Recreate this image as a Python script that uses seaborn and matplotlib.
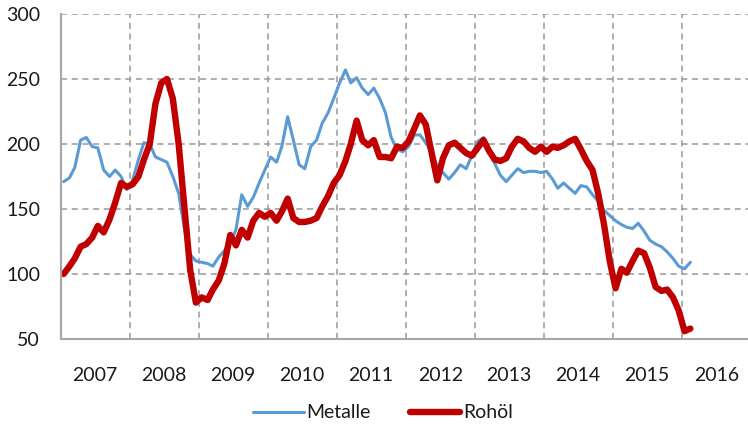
'''
Metalle vs. Rohöl price index, 2007 - 2016
'''
import matplotlib
matplotlib.use("Agg")
import matplotlib.pyplot as plt
import matplotlib.dates as mdates
import numpy as np
import pandas as pd
import seaborn as sns


# monthly index values, Jan 2007 .. Feb 2016
metalle = [171, 174, 182, 203, 205, 198, 197, 180, 175, 180, 175, 165,
           172, 188, 201, 200, 190, 188, 186, 175, 162, 135, 115, 110,
           109, 108, 106, 113, 118, 124, 134, 161, 152, 159, 170, 180,
           190, 186, 198, 221, 203, 184, 181, 198, 203, 216, 224, 235,
           247, 257, 247, 251, 243, 238, 243, 235, 224, 205, 196, 194,
           198, 207, 207, 201, 194, 183, 178, 173, 178, 184, 181, 191,
           202, 205, 195, 185, 176, 171, 176, 181, 178, 179, 179, 178,
           179, 173, 166, 170, 166, 162, 168, 167, 161, 156, 149, 145,
           141, 138, 136, 135, 139, 133, 126, 123, 121, 117, 112, 106,
           104, 109]

rohoel = [100, 106, 112, 121, 123, 128, 137, 132, 142, 155, 170, 167,
          169, 175, 188, 200, 231, 247, 250, 235, 200, 152, 103, 78,
          82, 80, 88, 95, 108, 130, 122, 134, 128, 141, 147, 144,
          147, 141, 148, 158, 143, 140, 140, 141, 143, 152, 160, 170,
          176, 187, 200, 218, 203, 199, 203, 190, 190, 189, 198, 197,
          202, 212, 222, 215, 194, 172, 189, 199, 201, 197, 193, 191,
          197, 203, 195, 188, 187, 189, 198, 204, 202, 197, 194, 198,
          194, 198, 197, 199, 202, 204, 196, 187, 180, 162, 138, 110,
          89, 104, 101, 110, 118, 116, 105, 90, 87, 88, 82, 72,
          56, 58]

series_names = ["Metalle", "Rohöl"]
series_colors = ["#5B9BD5", "#C00000"]
series_widths = [2.2, 4.6]

y_ticks = [50, 100, 150, 200, 250, 300]
first_month = "2007-01-01"
x_start, x_end = "2007-01-01", "2017-01-01"

# points sit in the middle of their month slot
months = pd.date_range(first_month, periods=len(metalle), freq="MS") + pd.Timedelta(days=14)
df = pd.DataFrame({"Monat": months, "Metalle": metalle, "Rohöl": rohoel})

sns.set_style("white")
plt.rcParams["font.family"] = ["Lato", "DejaVu Sans"]

fig = plt.figure(figsize=(7.48, 4.33), dpi=100)
ax = fig.add_axes([61 / 748, 94 / 433, 690 / 748, 325 / 433])

for name, color, lw in zip(series_names, series_colors, series_widths):
    sns.lineplot(data=df, x="Monat", y=name, color=color, linewidth=lw,
                 label=name, ax=ax, solid_capstyle="round", solid_joinstyle="round")

ax.set_xlim(pd.Timestamp(x_start), pd.Timestamp(x_end))
ax.set_ylim(50, 300)
ax.set_yticks(y_ticks)

# year boundaries as ticks + grid, year labels centred in between
ax.xaxis.set_major_locator(mdates.YearLocator())
ax.xaxis.set_major_formatter(plt.NullFormatter())
ax.xaxis.set_minor_locator(mdates.MonthLocator(bymonth=7, bymonthday=1))
ax.xaxis.set_minor_formatter(mdates.DateFormatter("%Y"))

grid_kw = dict(color="#999999", linestyle=(0, (4, 3)), linewidth=1.1)
ax.grid(True, axis="y", which="major", **grid_kw)
ax.grid(True, axis="x", which="major", **grid_kw)
ax.grid(False, which="minor")
ax.set_axisbelow(True)

for side in ["top", "right"]:
    ax.spines[side].set_visible(False)
for side in ["left", "bottom"]:
    ax.spines[side].set_color("#A6A6A6")
    ax.spines[side].set_linewidth(1.5)

ax.tick_params(axis="x", which="major", length=6, width=1.2, color="#A6A6A6", direction="out")
ax.tick_params(axis="x", which="minor", length=0, pad=20, labelsize=14, labelcolor="#1a1a1a")
ax.tick_params(axis="y", which="major", length=6, width=1.2, color="#A6A6A6",
               direction="out", pad=9, labelsize=14, labelcolor="#1a1a1a")

ax.set_xlabel("")
ax.set_ylabel("")

handles, labels = ax.get_legend_handles_labels()
ax.get_legend().remove()
fig.legend(handles, labels, loc="center", bbox_to_anchor=(383 / 748, 1 - 413 / 433),
           ncol=2, frameon=False, fontsize=14, handlelength=2.6, handletextpad=0.15,
           columnspacing=2.0, labelcolor="#1a1a1a")

fig.savefig("out.png", dpi=100)
